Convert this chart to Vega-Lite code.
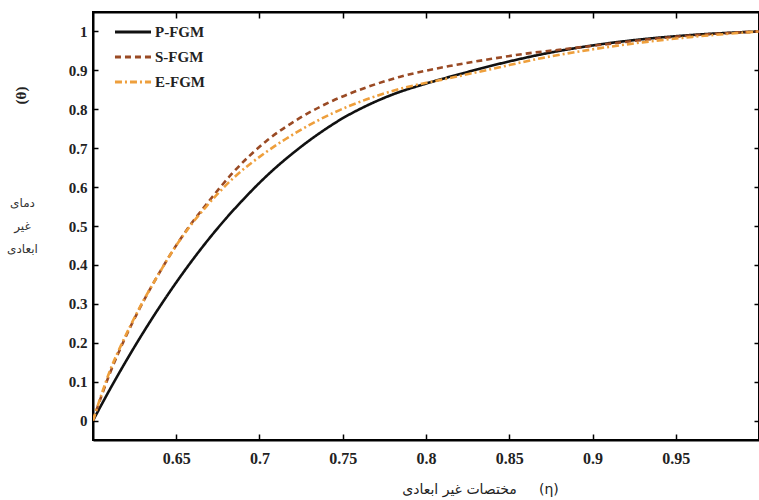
{
  "$schema": "https://vega.github.io/schema/vega-lite/v6.json",
  "width": 666,
  "height": 428,
  "autosize": {"type": "none"},
  "padding": {"left": 93, "top": 12, "right": 0, "bottom": 60},
  "background": "white",
  "config": {
    "view": {"stroke": "black", "strokeWidth": 2},
    "axis": {"grid": false, "domainColor": "black", "domainWidth": 2, "tickColor": "black", "tickWidth": 1.5, "labelFont": "Liberation Serif", "labelFontWeight": "bold", "labelFontSize": 15, "labelColor": "#222"}
  },
  "data": {"values": [
    {"eta": 0.600, "theta": 0.000, "series": "P-FGM"},
    {"eta": 0.610, "theta": 0.079, "series": "P-FGM"},
    {"eta": 0.620, "theta": 0.154, "series": "P-FGM"},
    {"eta": 0.630, "theta": 0.225, "series": "P-FGM"},
    {"eta": 0.640, "theta": 0.292, "series": "P-FGM"},
    {"eta": 0.650, "theta": 0.355, "series": "P-FGM"},
    {"eta": 0.660, "theta": 0.414, "series": "P-FGM"},
    {"eta": 0.670, "theta": 0.469, "series": "P-FGM"},
    {"eta": 0.680, "theta": 0.520, "series": "P-FGM"},
    {"eta": 0.690, "theta": 0.567, "series": "P-FGM"},
    {"eta": 0.700, "theta": 0.611, "series": "P-FGM"},
    {"eta": 0.710, "theta": 0.651, "series": "P-FGM"},
    {"eta": 0.720, "theta": 0.687, "series": "P-FGM"},
    {"eta": 0.730, "theta": 0.720, "series": "P-FGM"},
    {"eta": 0.740, "theta": 0.750, "series": "P-FGM"},
    {"eta": 0.750, "theta": 0.777, "series": "P-FGM"},
    {"eta": 0.760, "theta": 0.800, "series": "P-FGM"},
    {"eta": 0.780, "theta": 0.838, "series": "P-FGM"},
    {"eta": 0.800, "theta": 0.866, "series": "P-FGM"},
    {"eta": 0.820, "theta": 0.890, "series": "P-FGM"},
    {"eta": 0.850, "theta": 0.923, "series": "P-FGM"},
    {"eta": 0.880, "theta": 0.950, "series": "P-FGM"},
    {"eta": 0.900, "theta": 0.964, "series": "P-FGM"},
    {"eta": 0.930, "theta": 0.980, "series": "P-FGM"},
    {"eta": 0.960, "theta": 0.991, "series": "P-FGM"},
    {"eta": 1.000, "theta": 1.000, "series": "P-FGM"},
    {"eta": 0.600, "theta": 0.000, "series": "S-FGM"},
    {"eta": 0.605, "theta": 0.062, "series": "S-FGM"},
    {"eta": 0.610, "theta": 0.120, "series": "S-FGM"},
    {"eta": 0.618, "theta": 0.200, "series": "S-FGM"},
    {"eta": 0.628, "theta": 0.288, "series": "S-FGM"},
    {"eta": 0.638, "theta": 0.366, "series": "S-FGM"},
    {"eta": 0.648, "theta": 0.437, "series": "S-FGM"},
    {"eta": 0.658, "theta": 0.500, "series": "S-FGM"},
    {"eta": 0.668, "theta": 0.555, "series": "S-FGM"},
    {"eta": 0.684, "theta": 0.637, "series": "S-FGM"},
    {"eta": 0.704, "theta": 0.718, "series": "S-FGM"},
    {"eta": 0.724, "theta": 0.777, "series": "S-FGM"},
    {"eta": 0.744, "theta": 0.822, "series": "S-FGM"},
    {"eta": 0.764, "theta": 0.856, "series": "S-FGM"},
    {"eta": 0.784, "theta": 0.883, "series": "S-FGM"},
    {"eta": 0.814, "theta": 0.911, "series": "S-FGM"},
    {"eta": 0.840, "theta": 0.930, "series": "S-FGM"},
    {"eta": 0.860, "theta": 0.943, "series": "S-FGM"},
    {"eta": 0.880, "theta": 0.953, "series": "S-FGM"},
    {"eta": 0.900, "theta": 0.963, "series": "S-FGM"},
    {"eta": 0.930, "theta": 0.978, "series": "S-FGM"},
    {"eta": 0.960, "theta": 0.990, "series": "S-FGM"},
    {"eta": 1.000, "theta": 1.000, "series": "S-FGM"},
    {"eta": 0.600, "theta": 0.000, "series": "E-FGM"},
    {"eta": 0.605, "theta": 0.066, "series": "E-FGM"},
    {"eta": 0.610, "theta": 0.126, "series": "E-FGM"},
    {"eta": 0.618, "theta": 0.204, "series": "E-FGM"},
    {"eta": 0.628, "theta": 0.290, "series": "E-FGM"},
    {"eta": 0.638, "theta": 0.366, "series": "E-FGM"},
    {"eta": 0.648, "theta": 0.437, "series": "E-FGM"},
    {"eta": 0.658, "theta": 0.498, "series": "E-FGM"},
    {"eta": 0.668, "theta": 0.550, "series": "E-FGM"},
    {"eta": 0.684, "theta": 0.622, "series": "E-FGM"},
    {"eta": 0.704, "theta": 0.690, "series": "E-FGM"},
    {"eta": 0.724, "theta": 0.745, "series": "E-FGM"},
    {"eta": 0.744, "theta": 0.790, "series": "E-FGM"},
    {"eta": 0.764, "theta": 0.825, "series": "E-FGM"},
    {"eta": 0.784, "theta": 0.852, "series": "E-FGM"},
    {"eta": 0.814, "theta": 0.880, "series": "E-FGM"},
    {"eta": 0.840, "theta": 0.904, "series": "E-FGM"},
    {"eta": 0.870, "theta": 0.932, "series": "E-FGM"},
    {"eta": 0.900, "theta": 0.954, "series": "E-FGM"},
    {"eta": 0.930, "theta": 0.972, "series": "E-FGM"},
    {"eta": 0.960, "theta": 0.986, "series": "E-FGM"},
    {"eta": 1.000, "theta": 1.000, "series": "E-FGM"}
  ]},
  "layer": [
    {
      "mark": {"type": "line", "interpolate": "monotone", "strokeWidth": 2.6, "clip": true},
      "encoding": {
        "x": {"field": "eta", "type": "quantitative",
          "scale": {"domain": [0.6, 1.0], "nice": false, "zero": false},
          "axis": {"orient": "bottom", "values": [0.65, 0.7, 0.75, 0.8, 0.85, 0.9, 0.95], "format": "~g", "tickSize": -6, "labelPadding": 16, "labelFontSize": 16,
            "title": "مختصات غیر ابعادی\u00a0\u00a0\u00a0\u00a0\u00a0(η)", "titleFont": "DejaVu Sans", "titleFontWeight": "normal", "titleFontSize": 14, "titleColor": "#222",
            "titleX": 387, "titleY": 49, "titleAnchor": "middle", "titleAlign": "center", "titleBaseline": "middle"}},
        "y": {"field": "theta", "type": "quantitative",
          "scale": {"domain": [-0.05, 1.05], "nice": false, "zero": false},
          "axis": {"orient": "left", "values": [0, 0.1, 0.2, 0.3, 0.4, 0.5, 0.6, 0.7, 0.8, 0.9, 1], "format": "~g", "tickSize": -5, "labelPadding": 11,
            "title": ["دمای", "غیر", "ابعادی"], "titleFont": "DejaVu Sans", "titleFontWeight": "normal", "titleFontSize": 12, "titleColor": "#333",
            "titleAngle": 0, "titleX": -71, "titleY": 190, "titleAlign": "center", "titleBaseline": "middle", "titleLineHeight": 23}},
        "color": {"field": "series", "type": "nominal",
          "scale": {"domain": ["P-FGM", "S-FGM", "E-FGM"], "range": ["#111111", "#9a4a24", "#ee9f3c"]},
          "legend": {"title": null, "orient": "none", "legendX": 20, "legendY": 13, "padding": 0, "symbolType": "stroke", "symbolSize": 1300, "symbolStrokeWidth": 3,
            "clipHeight": 14, "rowPadding": 10, "labelFont": "Liberation Serif", "labelFontWeight": "bold", "labelFontSize": 15, "labelColor": "#222", "labelOffset": 2}},
        "strokeDash": {"field": "series", "type": "nominal",
          "scale": {"domain": ["P-FGM", "S-FGM", "E-FGM"], "range": [[1, 0], [6, 4], [7, 3, 2, 3]]},
          "legend": {"title": null, "orient": "none", "legendX": 20, "legendY": 13, "padding": 0, "symbolType": "stroke", "symbolSize": 1300, "symbolStrokeWidth": 3,
            "clipHeight": 14, "rowPadding": 10, "labelFont": "Liberation Serif", "labelFontWeight": "bold", "labelFontSize": 15, "labelColor": "#222", "labelOffset": 2}}
      }
    },
    {
      "mark": {"type": "point", "opacity": 0},
      "encoding": {
        "x": {"field": "eta", "type": "quantitative",
          "axis": {"orient": "top", "values": [0.65, 0.7, 0.75, 0.8, 0.85, 0.9, 0.95], "labels": false, "tickSize": -6,
            "title": "(θ)", "titleFont": "Liberation Serif", "titleFontWeight": "bold", "titleFontSize": 15, "titleColor": "#222",
            "titleAngle": 270, "titleX": -73, "titleY": 83, "titleAlign": "center", "titleBaseline": "middle"}},
        "y": {"field": "theta", "type": "quantitative",
          "axis": {"orient": "right", "values": [0, 0.1, 0.2, 0.3, 0.4, 0.5, 0.6, 0.7, 0.8, 0.9, 1], "labels": false, "tickSize": -5, "title": null}}
      }
    }
  ],
  "resolve": {"axis": {"x": "independent", "y": "independent"}}
}
